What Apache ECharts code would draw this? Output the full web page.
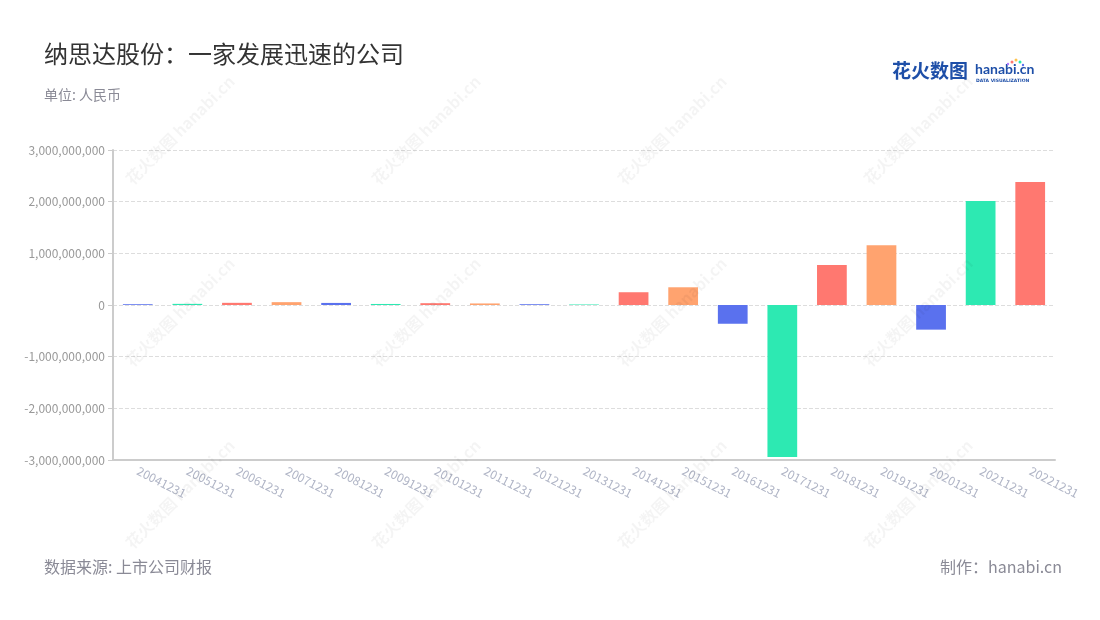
<!DOCTYPE html>
<html>
<head>
<meta charset="utf-8">
<script src="https://cdn.jsdelivr.net/npm/echarts@6/dist/echarts.min.js"></script>
<style>html,body{margin:0;padding:0;background:#fff}#c{width:1100px;height:620px}</style>
</head>
<body>
<div id="c"></div>
<script>
const categories = ['20041231','20051231','20061231','20071231','20081231','20091231','20101231','20111231','20121231','20131231','20141231','20151231','20161231','20171231','20181231','20191231','20201231','20211231','20221231'];
const values = [15e6, 22e6, 42e6, 55e6, 40e6, 20e6, 35e6, 30e6, 15e6, 10e6, 247e6, 343e6, -363e6, -2940e6, 772e6, 1158e6, -477e6, 2014e6, 2380e6];
const yTicks = { min: -3e9, max: 3e9, interval: 1e9 };
const palette = ['#5A71EE', '#2DE9B2', '#FF7870', '#FFA36F'];

const FONT = '"Noto Sans CJK SC", "Noto Sans", sans-serif';
const chart = echarts.init(document.getElementById('c'));

const watermarks = [];
[130, 312, 494].forEach(cy => {
  [180, 426, 672, 918].forEach(cx => {
    watermarks.push({
      type: 'text', x: cx, y: cy, rotation: Math.PI / 4, z: 100, silent: true,
      style: { text: '花火数图 hanabi.cn', fontSize: 16, fontWeight: 'bold', fill: 'rgba(0,0,0,0.045)',
        align: 'center', verticalAlign: 'middle', fontFamily: FONT }
    });
  });
});

chart.setOption({
  backgroundColor: '#fff',
  textStyle: { fontFamily: FONT },
  title: [
    { text: '纳思达股份：一家发展迅速的公司', left: 39, top: 37,
      textStyle: { fontSize: 24, fontWeight: 'normal', color: '#333', fontFamily: FONT } },
    { text: '单位: 人民币', left: 39, top: 83,
      textStyle: { fontSize: 14, fontWeight: 'normal', color: '#8a8a96', fontFamily: FONT } },
    { text: '数据来源: 上市公司财报', left: 39, top: 554,
      textStyle: { fontSize: 16, fontWeight: 'normal', color: '#8a8a96', fontFamily: FONT } },
    { text: '制作：hanabi.cn', right: 33, top: 554,
      textStyle: { fontSize: 16, fontWeight: 'normal', color: '#8a8a96', fontFamily: FONT } }
  ],
  graphic: [
    { type: 'text', left: 892, top: 61, style: { text: '花火数图', fontSize: 19, fontWeight: 'bold', fill: '#1E4FA8', fontFamily: FONT } },
    { type: 'text', left: 975, top: 62, style: { text: 'hanabi.cn', fontSize: 14, fontWeight: 'bold', fill: '#1E4FA8', fontFamily: 'Lato, sans-serif' } },
    { type: 'text', left: 976, top: 78, style: { text: 'DATA VISUALIZATION', fontSize: 4.5, fontWeight: 'bold', fill: '#1E4FA8', fontFamily: '"DejaVu Sans", sans-serif' } },
    { type: 'circle', shape: { cx: 1012, cy: 62, r: 1.5 }, style: { fill: '#FF7870' } },
    { type: 'circle', shape: { cx: 1016, cy: 60, r: 1.5 }, style: { fill: '#FFC34D' } },
    { type: 'circle', shape: { cx: 1020, cy: 62, r: 1.5 }, style: { fill: '#2DE9B2' } },
    { type: 'circle', shape: { cx: 1008, cy: 64, r: 1.2 }, style: { fill: '#B57BFF' } },
    { type: 'circle', shape: { cx: 1023, cy: 65, r: 1.2 }, style: { fill: '#5A71EE' } }
  ].concat(watermarks),
  grid: { left: 113, right: 45, top: 150, bottom: 160, containLabel: false },
  xAxis: {
    type: 'category',
    data: categories,
    axisLine: { onZero: false, lineStyle: { color: '#ccc', width: 2 } },
    axisTick: { alignWithLabel: true, lineStyle: { color: '#bbb' } },
    axisLabel: { rotate: -27, color: '#B0B5C6', fontSize: 12, margin: 10, interval: 0, fontFamily: FONT }
  },
  yAxis: {
    type: 'value',
    min: yTicks.min, max: yTicks.max, interval: yTicks.interval,
    axisLine: { show: true, lineStyle: { color: '#ccc', width: 2 } },
    axisTick: { show: true, lineStyle: { color: '#ccc' } },
    axisLabel: { color: '#999', fontSize: 12, margin: 8, fontFamily: FONT,
      formatter: v => v.toLocaleString('en-US') },
    splitLine: { lineStyle: { color: '#ddd', type: 'dashed' } }
  },
  series: [{
    type: 'bar',
    barWidth: '60%',
    data: values.map((v, i) => ({ value: v, itemStyle: { color: palette[i % 4] } })),
    animation: false
  }],
  animation: false
});
</script>
</body>
</html>
